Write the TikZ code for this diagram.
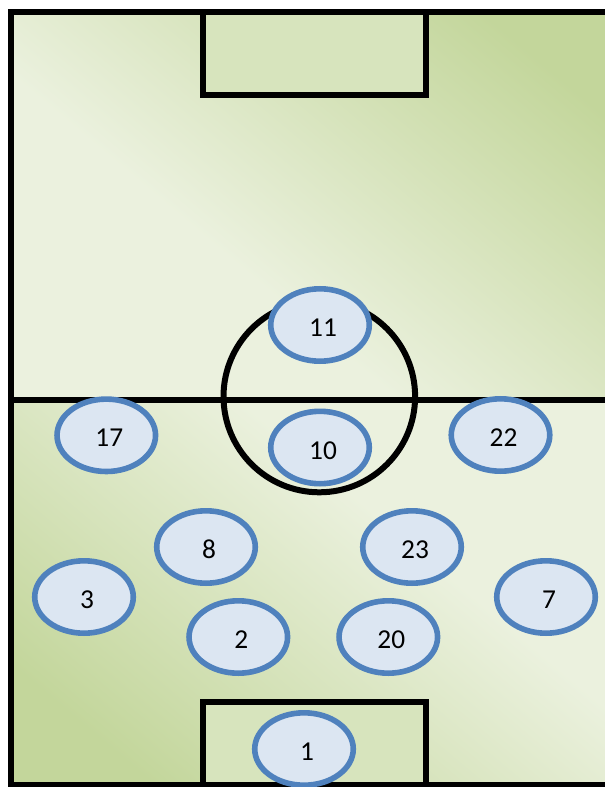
\documentclass[tikz,border=0pt]{standalone}
\usepackage{fontspec}
\setmainfont{Carlito}
\usetikzlibrary{shapes.geometric}
\definecolor{fdark}{HTML}{C3D69B}
\definecolor{flight}{HTML}{EBF1DE}
\definecolor{gbox}{HTML}{D7E4BD}
\definecolor{pfill}{HTML}{DCE6F2}
\definecolor{pline}{HTML}{4F81BD}
\pgfdeclarehorizontalshading{fieldshade}{100bp}{color(0bp)=(flight); color(25bp)=(flight); color(40bp)=(flight); color(76bp)=(fdark); color(100bp)=(fdark)}
\begin{document}
\begin{tikzpicture}[x=0.75pt,y=-0.75pt,
  fline/.style={draw=black, line width=4.5pt},
  player/.style={ellipse, draw=pline, fill=pfill, line width=4.2pt,
    minimum width=73.9pt, minimum height=54.3pt, inner sep=0pt, outer sep=0pt,
    font=\fontsize{20.5}{24}\selectfont, text height=17.5pt, text depth=0pt,
    execute at begin node=\hspace*{4.5pt}}]
\useasboundingbox (0,0) rectangle (605,787);
\begin{scope}
\clip (0,0) rectangle (605,787);
\shade[shading=fieldshade, shading angle=50] (11.3,12) rectangle (625,399.7);
\shade[shading=fieldshade, shading angle=230] (11.3,399.7) rectangle (625,784.5);
\fill[gbox] (203,12) rectangle (425.5,95);
\fill[gbox] (203,702) rectangle (425.5,784.5);
\draw[fline] (625,12) -- (11.3,12) -- (11.3,784.5) -- (625,784.5);
\draw[fline] (11.3,399.7) -- (625,399.7);
\draw[fline] (203,12) rectangle (425.5,95);
\draw[fline] (203,784.5) rectangle (425.5,702);
\draw[fline] (319.3,396.5) circle[radius=71.85pt];
\end{scope}
\node[player] (p11) at (320,325) {11};
\node[player] (p10) at (320,447.5) {10};
\node[player] (p17) at (106.3,435.3) {17};
\node[player] (p22) at (500.5,435) {22};
\node[player] (p8) at (206,547) {8};
\node[player] (p23) at (412,547) {23};
\node[player] (p3) at (84,597) {3};
\node[player] (p7) at (546,597) {7};
\node[player] (p2) at (238.3,637) {2};
\node[player] (p20) at (388.3,637) {20};
\node[player] (p1) at (304,749) {1};
\end{tikzpicture}
\end{document}
